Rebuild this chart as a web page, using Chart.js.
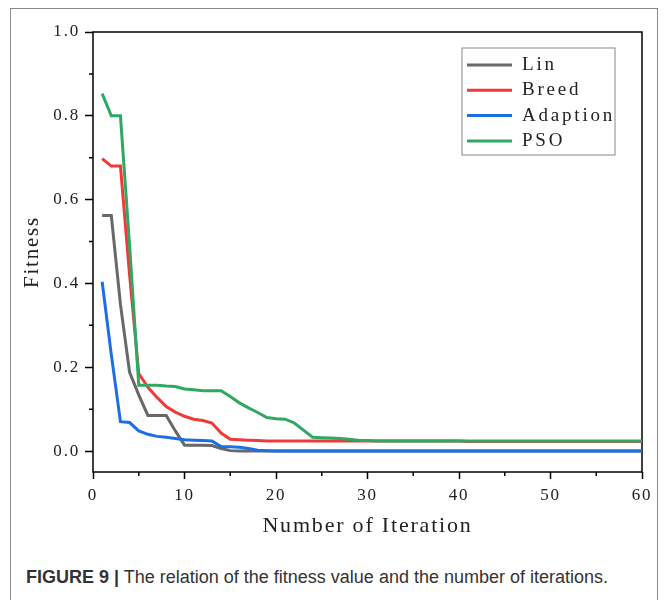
<!DOCTYPE html>
<html>
<head>
<meta charset="utf-8">
<script src="https://cdn.jsdelivr.net/npm/chart.js@4.4.0/dist/chart.umd.min.js"></script>
<style>
  body { margin: 0; background: #fff; }
  #frame { position: absolute; left: 10px; top: 8px; width: 646px; height: 610px; border: 1.5px solid #8a8a8a; border-bottom: none; }
  #cv { position: absolute; left: 0; top: 0; }
  #caption { position: absolute; left: 26px; top: 567px; font: 18px "Liberation Sans", Arial, sans-serif; color: #333; white-space: nowrap; }
  #caption b { font-weight: bold; }
</style>
</head>
<body>
<div id="frame"></div>
<canvas id="cv" width="668" height="560"></canvas>
<div id="caption"><b>FIGURE 9 |</b> The relation of the fitness value and the number of iterations.</div>
<script>
// iterations 1..60
var iterations = [1,2,3,4,5,6,7,8,9,10,11,12,13,14,15,16,17,18,19,20,
    21,22,23,24,25,26,27,28,29,30,31,32,33,34,35,36,37,38,39,40,
    41,42,43,44,45,46,47,48,49,50,51,52,53,54,55,56,57,58,59,60];

var lin = [0.562,0.562,0.35,0.188,0.134,0.085,0.085,0.085,0.048,0.014,
    0.014,0.014,0.013,0.006,0.001,0,0,0,0,0,
    0,0,0,0,0,0,0,0,0,0, 0,0,0,0,0,0,0,0,0,0,
    0,0,0,0,0,0,0,0,0,0, 0,0,0,0,0,0,0,0,0,0];

var breed = [0.698,0.68,0.68,0.42,0.185,0.152,0.128,0.106,0.093,0.083,
    0.076,0.073,0.067,0.043,0.028,0.027,0.026,0.025,0.024,0.024,
    0.024,0.024,0.024,0.024,0.024,0.024,0.024,0.024,0.024,0.024,
    0.024,0.024,0.024,0.024,0.024,0.024,0.024,0.024,0.024,0.024,
    0.023,0.023,0.023,0.023,0.023,0.023,0.023,0.023,0.023,0.023,
    0.023,0.023,0.023,0.023,0.023,0.023,0.023,0.023,0.023,0.023];

var adaption = [0.404,0.23,0.07,0.068,0.048,0.04,0.035,0.033,0.03,0.027,
    0.026,0.025,0.024,0.011,0.01,0.009,0.006,0.002,0.001,0,
    0,0,0,0,0,0,0,0,0,0, 0,0,0,0,0,0,0,0,0,0,
    0,0,0,0,0,0,0,0,0,0, 0,0,0,0,0,0,0,0,0,0];

var pso = [0.853,0.80,0.80,0.49,0.157,0.157,0.157,0.155,0.154,0.148,
    0.146,0.144,0.144,0.144,0.13,0.115,0.103,0.092,0.08,0.077,
    0.076,0.067,0.05,0.033,0.032,0.031,0.03,0.028,0.026,0.025,
    0.024,0.024,0.024,0.024,0.024,0.024,0.024,0.024,0.024,0.024,
    0.024,0.024,0.024,0.024,0.024,0.024,0.024,0.024,0.024,0.024,
    0.024,0.024,0.024,0.024,0.024,0.024,0.024,0.024,0.024,0.024];

var seriesNames = ['Lin', 'Breed', 'Adaption', 'PSO'];
var seriesColors = ['#686868', '#f03a3a', '#1c6fe3', '#2fa862'];

var xTicks = [0, 10, 20, 30, 40, 50, 60];
var xMinor = [5, 15, 25, 35, 45, 55];
var yTicks = [0, 0.2, 0.4, 0.6, 0.8, 1.0];
var yMinor = [0.1, 0.3, 0.5, 0.7, 0.9];

var serif = '"Liberation Serif", "DejaVu Serif", serif';

function points(values) {
    return values.map(function (v, i) { return {x: iterations[i], y: v}; });
}

var datasets = [lin, breed, adaption, pso].map(function (vals, i) {
    return {
        label: seriesNames[i],
        data: points(vals),
        borderColor: seriesColors[i],
        backgroundColor: seriesColors[i],
        borderWidth: 3,
        pointRadius: 0,
        tension: 0,
        fill: false,
        order: 4 - i
    };
});

var framePlugin = {
    id: 'frame',
    beforeDraw: function (chart) {
        chart.ctx.letterSpacing = '1.8px';
    },
    beforeDatasetsDraw: function (chart) {
        var ctx = chart.ctx, a = chart.chartArea;
        var xs = chart.scales.x, ys = chart.scales.y;
        ctx.save();
        ctx.strokeStyle = '#000';
        ctx.lineWidth = 1.5;
        ctx.strokeRect(a.left, a.top, a.right - a.left, a.bottom - a.top);
        ctx.beginPath();
        yMinor.forEach(function (v) {
            var py = ys.getPixelForValue(v);
            ctx.moveTo(a.left - 4, py);
            ctx.lineTo(a.left, py);
        });
        xMinor.forEach(function (v) {
            var px = xs.getPixelForValue(v);
            ctx.moveTo(px, a.bottom);
            ctx.lineTo(px, a.bottom + 4);
        });
        ctx.stroke();
        ctx.restore();
    },
    afterDraw: function (chart) {
        var ctx = chart.ctx, a = chart.chartArea;
        var x0 = a.right - 180, y0 = a.top + 16, w = 153, h = 107;
        ctx.save();
        ctx.strokeStyle = '#888';
        ctx.lineWidth = 1;
        ctx.strokeRect(x0, y0, w, h);
        ctx.font = '19px ' + serif;
        ctx.letterSpacing = '2.8px';
        ctx.textBaseline = 'middle';
        ctx.fillStyle = '#222';
        chart.data.datasets.forEach(function (ds, i) {
            var cy = y0 + 17 + i * 25.3;
            ctx.strokeStyle = ds.borderColor;
            ctx.lineWidth = 3;
            ctx.beginPath();
            ctx.moveTo(x0 + 5, cy);
            ctx.lineTo(x0 + 50, cy);
            ctx.stroke();
            ctx.fillText(ds.label, x0 + 60, cy);
        });
        ctx.restore();
    }
};

var ctx = document.getElementById('cv').getContext('2d');
var myChart = new Chart(ctx, {
    type: 'line',
    data: {datasets: datasets},
    options: {
        responsive: false,
        animation: false,
        devicePixelRatio: 1,
        layout: {padding: {left: 0, top: 32, right: 26, bottom: 0}},
        plugins: {legend: {display: false}, tooltip: {enabled: false}},
        scales: {
            x: {
                type: 'linear',
                min: 0,
                max: 60,
                afterBuildTicks: function (s) { s.ticks = xTicks.map(function (v) { return {value: v}; }); },
                afterFit: function (s) { s.height = 88; },
                border: {display: false},
                grid: {drawOnChartArea: false, drawTicks: true, tickLength: 7, tickColor: '#000', tickWidth: 1.5},
                ticks: {color: '#222', padding: 6, font: {family: serif, size: 17}},
                title: {display: true, text: 'Number of Iteration', color: '#222',
                    font: {family: serif, size: 22}, padding: {top: 0, bottom: 21}}
            },
            y: {
                type: 'linear',
                min: -0.05,
                max: 1.0,
                afterBuildTicks: function (s) { s.ticks = yTicks.map(function (v) { return {value: v}; }); },
                afterFit: function (s) { s.width = 93; },
                border: {display: false},
                grid: {drawOnChartArea: false, drawTicks: true, tickLength: 8, tickColor: '#000', tickWidth: 1.5},
                ticks: {color: '#222', padding: 5, font: {family: serif, size: 17},
                    callback: function (v) { return v.toFixed(1); }},
                title: {display: true, text: 'Fitness', color: '#222',
                    font: {family: serif, size: 21}, padding: {top: 20, bottom: 0}}
            }
        }
    },
    plugins: [framePlugin]
});
</script>
</body>
</html>
